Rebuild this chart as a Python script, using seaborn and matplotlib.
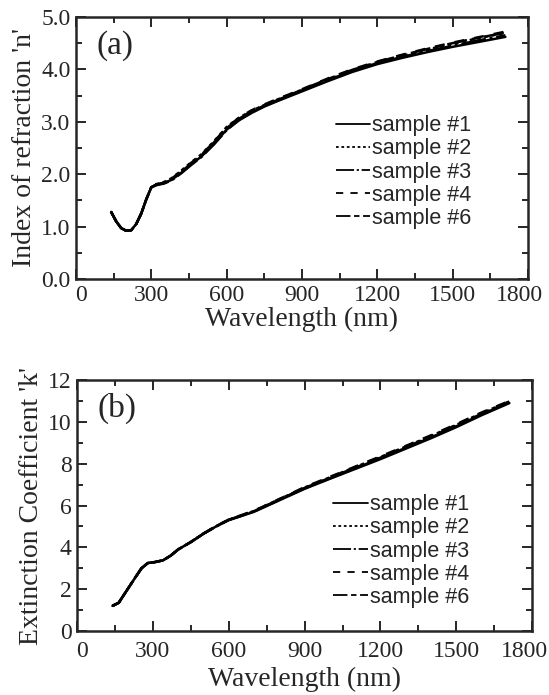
import numpy as np
import pandas as pd
import matplotlib
matplotlib.use("Agg")
import matplotlib.pyplot as plt
from matplotlib.ticker import MultipleLocator, FormatStrFormatter
from matplotlib.transforms import ScaledTranslation
import seaborn as sns

# ---------------- data ----------------
samples = ["sample #1", "sample #2", "sample #3", "sample #4", "sample #6"]

wl_n = [140, 160, 180, 200, 220, 240, 260, 280, 300, 320, 350, 380, 420, 460, 500,
        550, 600, 650, 700, 750, 800, 900, 1000, 1100, 1200, 1300, 1400, 1500, 1600, 1710]
n_s1 = [1.28, 1.10, 0.97, 0.92, 0.93, 1.05, 1.25, 1.52, 1.75, 1.80, 1.83, 1.89, 2.03, 2.19, 2.34,
        2.58, 2.85, 3.03, 3.17, 3.29, 3.39, 3.58, 3.77, 3.95, 4.10, 4.22, 4.33, 4.43, 4.52, 4.62]
n_s2 = [1.28, 1.10, 0.97, 0.92, 0.93, 1.05, 1.25, 1.52, 1.75, 1.81, 1.85, 1.92, 2.07, 2.23, 2.38,
        2.63, 2.90, 3.08, 3.21, 3.32, 3.42, 3.61, 3.80, 3.98, 4.13, 4.26, 4.38, 4.49, 4.59, 4.70]
n_s3 = [1.28, 1.10, 0.97, 0.92, 0.93, 1.05, 1.25, 1.52, 1.75, 1.79, 1.82, 1.88, 2.02, 2.18, 2.33,
        2.57, 2.84, 3.04, 3.18, 3.30, 3.40, 3.60, 3.79, 3.97, 4.12, 4.24, 4.35, 4.45, 4.55, 4.65]
n_s4 = [1.28, 1.10, 0.97, 0.92, 0.93, 1.05, 1.25, 1.52, 1.75, 1.80, 1.84, 1.91, 2.06, 2.22, 2.37,
        2.62, 2.89, 3.08, 3.22, 3.33, 3.43, 3.62, 3.82, 4.00, 4.15, 4.28, 4.40, 4.51, 4.61, 4.72]
n_s6 = [1.28, 1.10, 0.97, 0.92, 0.93, 1.05, 1.25, 1.52, 1.75, 1.80, 1.83, 1.90, 2.05, 2.21, 2.36,
        2.61, 2.88, 3.06, 3.20, 3.31, 3.41, 3.61, 3.81, 3.99, 4.14, 4.27, 4.39, 4.50, 4.60, 4.70]

wl_k = [140, 165, 200, 230, 255, 280, 310, 340, 370, 400, 450, 500, 550, 600, 650,
        700, 800, 900, 1000, 1100, 1200, 1300, 1400, 1500, 1600, 1710]
k_s1 = [1.20, 1.35, 2.00, 2.55, 3.00, 3.25, 3.30, 3.38, 3.60, 3.90, 4.25, 4.65, 5.00, 5.30, 5.50,
        5.70, 6.25, 6.80, 7.28, 7.75, 8.22, 8.72, 9.22, 9.75, 10.32, 10.90]
k_s2 = [1.20, 1.35, 2.00, 2.55, 3.00, 3.25, 3.30, 3.38, 3.60, 3.90, 4.25, 4.66, 5.01, 5.32, 5.53,
        5.74, 6.30, 6.86, 7.35, 7.84, 8.32, 8.82, 9.33, 9.86, 10.42, 10.98]
k_s3 = [1.20, 1.35, 2.00, 2.55, 3.00, 3.25, 3.30, 3.38, 3.60, 3.90, 4.25, 4.65, 5.00, 5.31, 5.51,
        5.72, 6.27, 6.82, 7.30, 7.78, 8.26, 8.76, 9.26, 9.79, 10.36, 10.93]
k_s4 = [1.20, 1.35, 2.00, 2.55, 3.00, 3.25, 3.30, 3.38, 3.60, 3.90, 4.26, 4.66, 5.02, 5.33, 5.54,
        5.75, 6.31, 6.88, 7.37, 7.86, 8.35, 8.85, 9.36, 9.89, 10.45, 11.00]
k_s6 = [1.20, 1.35, 2.00, 2.55, 3.00, 3.25, 3.30, 3.38, 3.60, 3.90, 4.25, 4.66, 5.01, 5.32, 5.52,
        5.73, 6.29, 6.84, 7.33, 7.81, 8.29, 8.79, 9.30, 9.83, 10.39, 10.96]

x_ticks = [0, 300, 600, 900, 1200, 1500, 1800]

# ---------------- styling ----------------
sns.set_theme(style="ticks")
plt.rcParams["font.family"] = ["Liberation Serif", "DejaVu Serif"]
plt.rcParams["axes.linewidth"] = 1.8

dash_map = {
    "sample #1": "",
    "sample #2": (1.5, 1.5),
    "sample #3": (10, 1.5, 1.2, 1.5),
    "sample #4": (4, 4),
    "sample #6": (8, 2, 3, 2),
}
palette = {s: "black" for s in samples}

n_series = [n_s1, n_s2, n_s3, n_s4, n_s6]
k_series = [k_s1, k_s2, k_s3, k_s4, k_s6]

df_n = pd.concat([pd.DataFrame({"wl": wl_n, "val": v, "sample": s})
                  for s, v in zip(samples, n_series)], ignore_index=True)
df_k = pd.concat([pd.DataFrame({"wl": wl_k, "val": v, "sample": s})
                  for s, v in zip(samples, k_series)], ignore_index=True)

fig = plt.figure(figsize=(5.49, 6.95), dpi=100)
ax1 = fig.add_axes([0.1384, 0.5986, 0.8233, 0.377])
ax2 = fig.add_axes([0.1403, 0.0921, 0.829, 0.361])


def style_axis(ax, df, ylim, ymajor, yminor, yfmt, ylabel, panel, leg_anchor,
               xpad, xlabelpad):
    sns.lineplot(data=df, x="wl", y="val", hue="sample", style="sample",
                 hue_order=samples, style_order=samples, palette=palette,
                 dashes=dash_map, linewidth=1.8, estimator=None, sort=False,
                 legend=False, ax=ax)
    ax.set_xlim(0, 1800)
    ax.set_ylim(*ylim)
    ax.set_xticks(x_ticks)
    ax.xaxis.set_minor_locator(MultipleLocator(150))
    ax.yaxis.set_major_locator(MultipleLocator(ymajor))
    ax.yaxis.set_minor_locator(MultipleLocator(yminor))
    ax.yaxis.set_major_formatter(FormatStrFormatter(yfmt))
    ax.tick_params(which="both", direction="in", top=True, right=True,
                   labelsize=17, width=1.4, pad=4)
    ax.tick_params(axis="x", pad=xpad)
    ax.tick_params(which="major", length=7)
    ax.tick_params(which="minor", length=4)
    ax.set_xlabel("Wavelength (nm)", fontsize=20, labelpad=xlabelpad)
    ax.set_ylabel(ylabel, fontsize=20, labelpad=3)
    ax.text(0.045, 0.95, panel, transform=ax.transAxes, fontsize=24,
            ha="left", va="top")
    for sp in ax.spines.values():
        sp.set_linewidth(1.8)
    # nudge first and last x tick labels as in the reference
    labels = ax.get_xticklabels()
    labels[0].set_transform(labels[0].get_transform() +
                            ScaledTranslation(5 / 100, 0, fig.dpi_scale_trans))
    labels[-1].set_transform(labels[-1].get_transform() +
                             ScaledTranslation(-8 / 100, 0, fig.dpi_scale_trans))
    handles = ax.get_lines()[:len(samples)]
    leg = ax.legend(handles, samples, loc="upper left", bbox_to_anchor=leg_anchor,
                    frameon=False, borderaxespad=0, borderpad=0,
                    handlelength=1.6, handletextpad=0.1, labelspacing=0.1,
                    prop={"family": ["Liberation Sans", "DejaVu Sans"], "size": 15.5})
    for h in leg.get_lines():
        h.set_linewidth(1.3)


style_axis(ax1, df_n, (0, 5), 1.0, 0.5, "%.1f", "Index of refraction 'n'", "(a)",
           (0.575, 0.625), 4, 1)
style_axis(ax2, df_k, (0, 12), 2, 1, "%d", "Extinction Coefficient 'k'", "(b)",
           (0.563, 0.545), 7, 4)

fig.savefig("out.png", dpi=100, facecolor="white")
